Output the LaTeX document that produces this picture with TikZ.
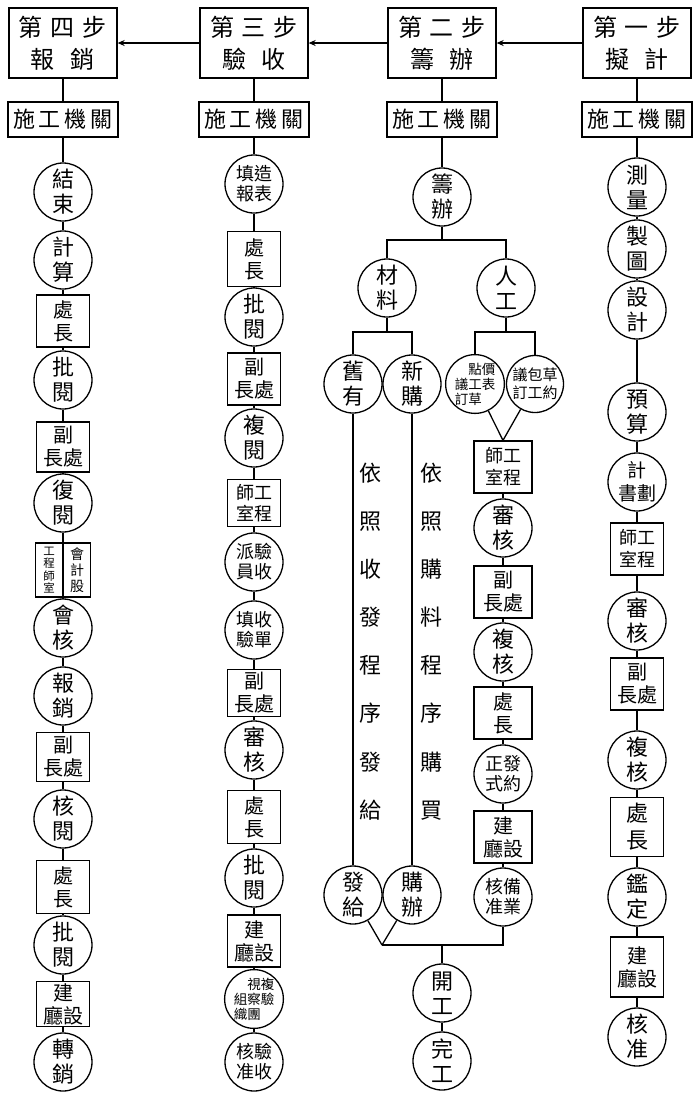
\documentclass[tikz,border=0pt]{standalone}
\usepackage{fontspec}
\setmainfont{Noto Sans CJK TC}
\usepackage{tikz}
\usetikzlibrary{arrows.meta,positioning}

\begin{document}
\begin{tikzpicture}[x=1pt, y=-1pt, line width=1.3pt,
    head/.style={draw, rectangle, minimum width=108pt, minimum height=70pt, inner sep=0pt, align=center, font=\fontsize{24}{32}\selectfont},
    org/.style={draw, rectangle, minimum width=110pt, minimum height=35pt, inner sep=0pt, font=\fontsize{22}{24}\selectfont},
    ring/.style={draw, circle, minimum size=58pt, inner sep=0pt, align=center, font=\fontsize{22}{25}\selectfont},
    pair/.style={ring, font=\fontsize{18}{20}\selectfont},
    tiny/.style={ring, font=\fontsize{13.5}{15}\selectfont},
    cell/.style={draw, rectangle, minimum width=53pt, minimum height=52pt, inner sep=0pt, align=center, font=\fontsize{20}{23}\selectfont},
    note/.style={align=center, inner sep=0pt, font=\fontsize{22}{48.1}\selectfont}]
    \useasboundingbox (0,0) rectangle (696,1093);

    % Step headers
    \node[head] (h1) at (637,43) {第\hspace{8pt}一\hspace{8pt}步\\擬\hspace{16pt}計};
    \node[head] (h2) at (442,43) {第\hspace{8pt}二\hspace{8pt}步\\籌\hspace{16pt}辦};
    \node[head] (h3) at (254,43) {第\hspace{8pt}三\hspace{8pt}步\\驗\hspace{16pt}收};
    \node[head] (h4) at (63,43) {第\hspace{8pt}四\hspace{8pt}步\\報\hspace{16pt}銷};
    \draw[-{Stealth[length=7pt,width=6pt]}] (h1) -- (h2);
    \draw[-{Stealth[length=7pt,width=6pt]}] (h2) -- (h3);
    \draw[-{Stealth[length=7pt,width=6pt]}] (h3) -- (h4);

    % Executing offices
    \node[org] (m1) at (637,119.5) {施\hspace{4pt}工\hspace{4pt}機\hspace{4pt}關};
    \node[org] (m2) at (442,119.5) {施\hspace{4pt}工\hspace{4pt}機\hspace{4pt}關};
    \node[org] (m3) at (254,119.5) {施\hspace{4pt}工\hspace{4pt}機\hspace{4pt}關};
    \node[org] (m4) at (63,119.5) {施\hspace{4pt}工\hspace{4pt}機\hspace{4pt}關};
    \draw (h1) -- (m1); \draw (h2) -- (m2); \draw (h3) -- (m3); \draw (h4) -- (m4);

    % Step one
    \node[ring] (a1) at (637,187) {測\\量};
    \node[ring] (a2) at (637,249) {製\\圖};
    \node[ring] (a3) at (637,310) {設\\計};
    \node[ring] (a4) at (637,412) {預\\算};
    \node[pair, font=\fontsize{19}{23}\selectfont] (a5) at (637,482) {計\\書劃};
    \node[cell, font=\fontsize{18}{22}\selectfont] (a6) at (637,549) {師工\\室程};
    \node[ring] (a7) at (637,621) {審\\核};
    \node[cell] (a8) at (637,684) {副\\長處};
    \node[ring] (a9) at (637,760) {複\\核};
    \node[cell, minimum height=59pt, font=\fontsize{22}{27}\selectfont] (a10) at (637,827) {處\\長};
    \node[ring] (a11) at (637,897) {鑑\\定};
    \node[cell, minimum height=60pt] (a12) at (637,967) {建\\廳設};
    \node[ring] (a13) at (637,1037) {核\\准};
    \draw (m1) -- (a1); \draw (a1) -- (a2); \draw (a2) -- (a3); \draw (a3) -- (a4);
    \draw (a4) -- (a5); \draw (a5) -- (a6); \draw (a6) -- (a7); \draw (a7) -- (a8);
    \draw (a8) -- (a9); \draw (a9) -- (a10); \draw (a10) -- (a11); \draw (a11) -- (a12);
    \draw (a12) -- (a13);

    % Step two
    \node[ring] (b0) at (442,197) {籌\\辦};
    \node[ring] (cl) at (387,288) {材\\料};
    \node[ring] (rg) at (506,288) {人\\工};
    \coordinate (t1) at (442,240);
    \draw (b0) -- (t1);
    \draw (cl) |- (t1) -| (rg);
    \draw (m2) -- (b0);

    \node[ring] (po) at (353,384) {舊\\有};
    \node[ring] (ps) at (412,384) {新\\購};
    \node[tiny, minimum size=57pt] (p3) at (475,384) {\phantom{議}點價\\議工表\\訂草\phantom{表}};
    \node[tiny, minimum size=57pt, font=\fontsize{15}{18}\selectfont] (p4) at (535,384) {議包草\\訂工約};
    \coordinate (t2) at (387,332);
    \coordinate (t3) at (506,332);
    \draw (cl) -- (t2);
    \draw (po) |- (t2) -| (ps);
    \draw (rg) -- (t3);
    \draw (p3) |- (t3) -| (p4);

    % labour branch
    \node[cell, minimum width=58pt, font=\fontsize{18}{22}\selectfont] (w1) at (503,467) {師工\\室程};
    \node[ring] (w2) at (503,528) {審\\核};
    \node[cell, minimum width=58pt] (w3) at (503,592) {副\\長處};
    \node[ring] (w4) at (503,652) {複\\核};
    \node[cell, minimum width=58pt] (w5) at (503,713) {處\\長};
    \node[pair] (w6) at (503,774) {正發\\式約};
    \node[cell, minimum width=58pt] (w7) at (503,837) {建\\廳設};
    \node[pair] (w8) at (503,897) {核備\\准業};
    \draw (p3) -- (w1.north); \draw (p4) -- (w1.north);
    \draw (w1) -- (w2); \draw (w2) -- (w3); \draw (w3) -- (w4); \draw (w4) -- (w5);
    \draw (w5) -- (w6); \draw (w6) -- (w7); \draw (w7) -- (w8);

    % material branch
    \node[ring] (fa) at (353,895) {發\\給};
    \node[ring] (gb) at (412,895) {購\\辦};
    \draw (po) -- (fa);
    \draw (ps) -- (gb);
    \node[note] (n1) at (370,641.5) {依\\照\\收\\發\\程\\序\\發\\給};
    \node[note] (n2) at (431,641.5) {依\\照\\購\\料\\程\\序\\購\\買};

    % start and finish
    \coordinate (jv) at (382,945);
    \coordinate (jm) at (442,945);
    \node[ring] (kg) at (442,993) {開\\工};
    \node[ring] (wg) at (442,1061) {完\\工};
    \draw (fa) -- (jv); \draw (gb) -- (jv);
    \draw (jv) -| (w8);
    \draw (jm) -- (kg); \draw (kg) -- (wg);

    % Step three
    \node[pair] (c1) at (254,184) {填造\\報表};
    \node[cell, minimum height=55pt] (c2) at (254,259) {處\\長};
    \node[ring] (c3) at (254,317) {批\\閱};
    \node[cell] (c4) at (254,379) {副\\長處};
    \node[ring] (c5) at (254,438) {複\\閱};
    \node[cell, minimum height=47pt, font=\fontsize{18}{21}\selectfont] (c6) at (254,503) {師工\\室程};
    \node[pair] (c7) at (254,562) {派驗\\員收};
    \node[pair] (c8) at (254,630) {填收\\驗單};
    \node[cell, minimum height=47pt] (c9) at (254,693) {副\\長處};
    \node[ring] (c10) at (254,750) {審\\核};
    \node[cell, minimum height=53pt] (c11) at (254,817) {處\\長};
    \node[ring] (c12) at (254,878) {批\\閱};
    \node[cell] (c13) at (254,941) {建\\廳設};
    \node[tiny] (c14) at (254,999) {\phantom{組}視複\\組察驗\\織團\phantom{組}};
    \node[pair] (c15) at (254,1062) {核驗\\准收};
    \draw (m3) -- (c1); \draw (c1) -- (c2); \draw (c2) -- (c3); \draw (c3) -- (c4);
    \draw (c4) -- (c5); \draw (c5) -- (c6); \draw (c6) -- (c7); \draw (c7) -- (c8);
    \draw (c8) -- (c9); \draw (c9) -- (c10); \draw (c10) -- (c11); \draw (c11) -- (c12);
    \draw (c12) -- (c13); \draw (c13) -- (c14); \draw (c14) -- (c15);

    % Step four
    \node[ring] (d1) at (63,192) {結\\束};
    \node[ring] (d2) at (63,260) {計\\算};
    \node[cell] (d3) at (63,321) {處\\長};
    \node[ring] (d4) at (63,380) {批\\閱};
    \node[cell, minimum height=50pt] (d5) at (63,447) {副\\長處};
    \node[ring] (d6) at (63,503) {復\\閱};
    \node[cell, minimum width=55pt, minimum height=54pt] (d7) at (63,570) {};
    \draw (d7.north) -- (d7.south);
    \node[align=center, inner sep=0pt, font=\fontsize{11.5}{12.5}\selectfont] (d7l) at (49,570) {工\\程\\師\\室};
    \node[align=center, inner sep=0pt, font=\fontsize{14}{16}\selectfont] (d7r) at (77,570) {會\\計\\股};
    \node[ring] (d8) at (63,628) {會\\核};
    \node[ring] (d9) at (63,696) {報\\銷};
    \node[cell, minimum height=49pt] (d10) at (63,757) {副\\長處};
    \node[ring] (d11) at (63,819) {核\\閱};
    \node[cell, minimum height=53pt] (d12) at (63,887) {處\\長};
    \node[ring] (d13) at (63,945) {批\\閱};
    \node[cell, minimum height=45pt] (d14) at (63,1004) {建\\廳設};
    \node[ring] (d15) at (63,1062) {轉\\銷};
    \draw (m4) -- (d1); \draw (d1) -- (d2); \draw (d2) -- (d3); \draw (d3) -- (d4);
    \draw (d4) -- (d5); \draw (d5) -- (d6); \draw (d6) -- (d7); \draw (d7) -- (d8);
    \draw (d8) -- (d9); \draw (d9) -- (d10); \draw (d10) -- (d11); \draw (d11) -- (d12);
    \draw (d12) -- (d13); \draw (d13) -- (d14); \draw (d14) -- (d15);
\end{tikzpicture}
\end{document}
